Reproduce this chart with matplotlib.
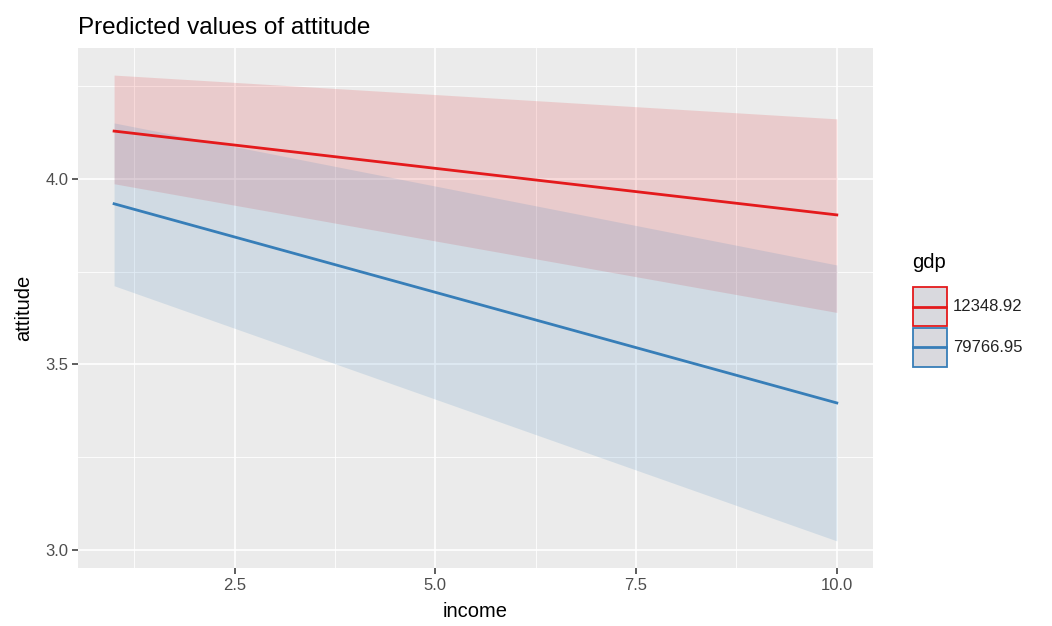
import matplotlib.pyplot as plt
from matplotlib.patches import Rectangle
from matplotlib.lines import Line2D

plt.rcParams['font.family'] = ['Liberation Sans', 'DejaVu Sans']

# values
income = [1, 10]
gdp_levels = ["12348.92", "79766.95"]
pred = [[4.129, 3.903], [3.933, 3.396]]
ci_low = [[3.987, 3.640], [3.712, 3.024]]
ci_high = [[4.280, 4.162], [4.151, 3.768]]
colors = ["#E41A1C", "#377EB8"]

x_ticks = [2.5, 5.0, 7.5, 10.0]
y_ticks = [3.0, 3.5, 4.0]

W, H = 1052, 626
fig = plt.figure(figsize=(W / 100, H / 100), dpi=100)
ax = fig.add_axes([0.0741, 0.0927, 0.7557, 0.8306])
ax.set_facecolor("#EBEBEB")

for i in range(2):
    ax.fill_between(income, ci_low[i], ci_high[i], color=colors[i], alpha=0.15, lw=0, zorder=2)
for i in range(2):
    ax.plot(income, pred[i], color=colors[i], lw=2.0, zorder=3)

ax.set_xlim(0.55, 10.45)
ax.set_ylim(2.951, 4.353)
ax.set_xticks(x_ticks)
ax.set_xticklabels(["2.5", "5.0", "7.5", "10.0"])
ax.set_yticks(y_ticks)
ax.set_yticklabels(["3.0", "3.5", "4.0"])
ax.set_xticks([1.25, 3.75, 6.25, 8.75], minor=True)
ax.set_yticks([3.25, 3.75, 4.25], minor=True)
ax.grid(which="major", color="white", lw=1.2, zorder=1)
ax.grid(which="minor", color="white", lw=0.6, zorder=1)
ax.set_axisbelow(True)
for s in ax.spines.values():
    s.set_visible(False)
ax.tick_params(which="major", length=4, width=1.1, color="#333333",
               labelcolor="#4D4D4D", labelsize=12, pad=3)
ax.tick_params(which="minor", length=0)

ax.set_xlabel("income", fontsize=14.5, color="black", labelpad=7)
ax.set_ylabel("attitude", fontsize=14.5, color="black", labelpad=9)
fig.text(0.0741, 0.955, "Predicted values of attitude", fontsize=17.5, ha="left", va="center")

# legend drawn by hand, ggplot style
fig.text(912 / W, 1 - 262 / H, "gdp", fontsize=14.5, ha="left", va="center")
for i, c in enumerate(colors):
    top = 287 + i * 40.5
    fig.add_artist(Rectangle((912.5 / W, 1 - (top + 39) / H), 34 / W, 39 / H,
                             transform=fig.transFigure, facecolor="#D9D9DE",
                             edgecolor=c, lw=1.3))
    yc = 1 - (top + 19.5) / H
    fig.add_artist(Line2D([913 / W, 946 / W], [yc, yc], transform=fig.transFigure,
                          color=c, lw=2))
    fig.text(953 / W, yc, gdp_levels[i], fontsize=12, ha="left", va="center",
             color="#222222")

fig.savefig("out.png", dpi=100)
